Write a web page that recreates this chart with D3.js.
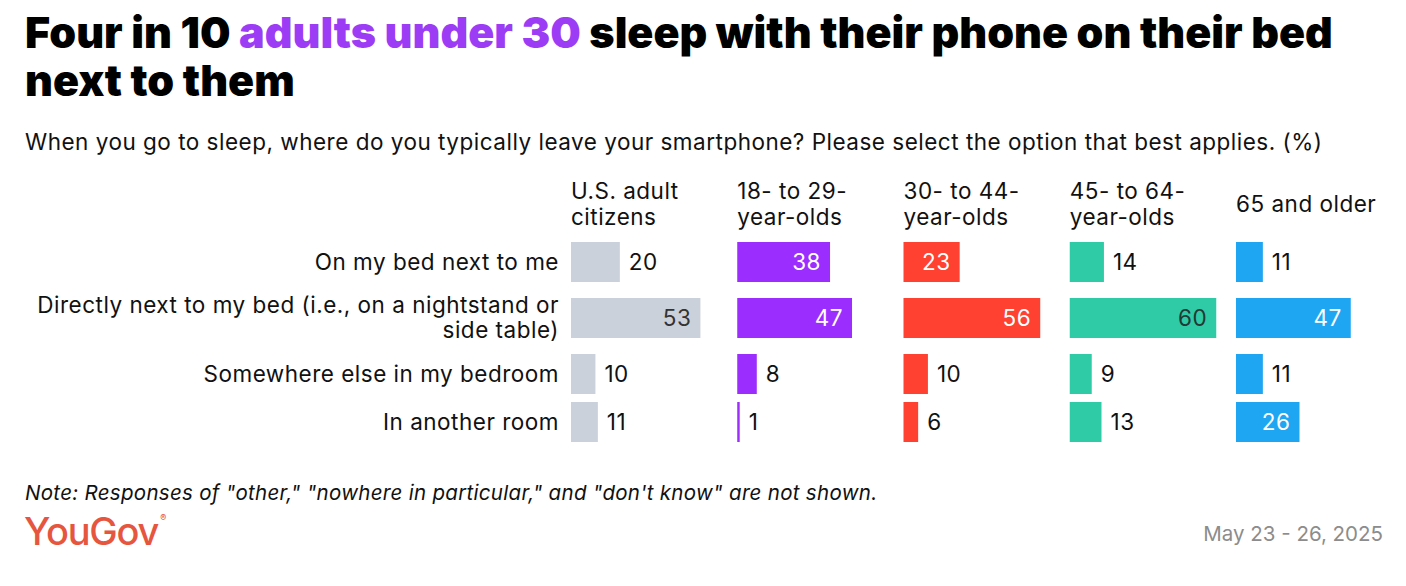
<!DOCTYPE html>
<html>
<head>
<meta charset="utf-8">
<script src="https://cdn.jsdelivr.net/npm/d3@7"></script>
<style>
  body { margin: 0; background: #fff; }
  text { font-family: Inter, "Noto Sans", sans-serif; }
</style>
</head>
<body>
<div class="chart"></div>
<script>
// Chart data
const categories = [
  "On my bed next to me",
  "Directly next to my bed (i.e., on a nightstand or side table)",
  "Somewhere else in my bedroom",
  "In another room"
];
const categoryLines = [
  ["On my bed next to me"],
  ["Directly next to my bed (i.e., on a nightstand or", "side table)"],
  ["Somewhere else in my bedroom"],
  ["In another room"]
];
const groups = ["U.S. adult citizens", "18- to 29-year-olds", "30- to 44-year-olds", "45- to 64-year-olds", "65 and older"];
const groupLines = [
  ["U.S. adult", "citizens"],
  ["18- to 29-", "year-olds"],
  ["30- to 44-", "year-olds"],
  ["45- to 64-", "year-olds"],
  ["65 and older"]
];
const usAdults = [20, 53, 10, 11];
const age18to29 = [38, 47, 8, 1];
const age30to44 = [23, 56, 10, 6];
const age45to64 = [14, 60, 9, 13];
const age65plus = [11, 47, 11, 26];
const seriesValues = [usAdults, age18to29, age30to44, age45to64, age65plus];

const colors = ["#cbd1da", "#9b2dff", "#ff4131", "#2fcaa6", "#1ea6f3"];
const insideText = ["#333", "#fff", "#fff", "#1f3b33", "#fff"];

const svgWidth = 1406;
const svgHeight = 586;
const bodySize = 22.5;
const bodySpacing = 0.5;

const svg = d3.select(".chart")
  .append("svg")
  .attr("width", svgWidth)
  .attr("height", svgHeight);

svg.append("rect").attr("width", svgWidth).attr("height", svgHeight).attr("fill", "#fff");

// Title
const title = svg.append("text")
  .attr("x", 25)
  .attr("y", 48)
  .attr("font-size", 43)
  .attr("font-weight", 900)
  .attr("letter-spacing", 0)
  .attr("fill", "#000");
title.append("tspan").text("Four in 10 ");
title.append("tspan").attr("fill", "#9d3cf5").text("adults under 30");
title.append("tspan").text(" sleep with their phone on their bed");

svg.append("text")
  .attr("x", 25)
  .attr("y", 96)
  .attr("font-size", 43)
  .attr("font-weight", 900)
  .attr("letter-spacing", 0)
  .attr("fill", "#000")
  .text("next to them");

// Subtitle
svg.append("text")
  .attr("x", 25)
  .attr("y", 150)
  .attr("font-size", bodySize)
  .attr("letter-spacing", bodySpacing)
  .attr("fill", "#111")
  .text("When you go to sleep, where do you typically leave your smartphone? Please select the option that best applies. (%)");

// Scales
const colX = d3.scaleLinear().domain([0, groups.length - 1]).range([571, 1236]);
const x = d3.scaleLinear().domain([0, 60]).range([0, 146.5]);

// Row layout: taller row for the two-line label
const rowH = categoryLines.map(lines => lines.length > 1 ? 64 : 48);
const rowTop = [];
let acc = 238;
rowH.forEach(h => { rowTop.push(acc); acc += h; });
const rowMid = rowTop.map((t, i) => t + rowH[i] / 2);
const barH = 40;

// Row labels
const rowLabels = svg.append("g")
  .attr("font-size", bodySize)
  .attr("letter-spacing", bodySpacing)
  .attr("fill", "#111")
  .attr("text-anchor", "end");

categoryLines.forEach((lines, i) => {
  const t = rowLabels.append("text").attr("x", 559);
  const y0 = rowMid[i] - (lines.length - 1) * 12.5;
  lines.forEach((l, j) => {
    t.append("tspan").attr("x", 559).attr("y", y0 + j * 25).attr("dy", "0.35em").text(l);
  });
});

// Column headers
groupLines.forEach((lines, g) => {
  const t = svg.append("text")
    .attr("font-size", bodySize)
    .attr("letter-spacing", bodySpacing)
    .attr("fill", "#111");
  const y0 = 204 - (lines.length - 1) * 13;
  lines.forEach((l, j) => {
    t.append("tspan").attr("x", colX(g)).attr("y", y0 + j * 26).attr("dy", "0.35em").text(l);
  });
});

// Bars and values
seriesValues.forEach((vals, g) => {
  const col = svg.append("g").attr("transform", `translate(${colX(g)},0)`);

  col.selectAll("rect")
    .data(vals)
    .enter()
    .append("rect")
    .attr("x", 0)
    .attr("y", (d, i) => rowMid[i] - barH / 2)
    .attr("width", d => Math.max(x(d), 1.5))
    .attr("height", barH)
    .attr("fill", colors[g]);

  col.selectAll("text")
    .data(vals)
    .enter()
    .append("text")
    .attr("font-size", bodySize)
    .attr("letter-spacing", bodySpacing)
    .attr("dy", "0.35em")
    .attr("y", (d, i) => rowMid[i])
    .attr("x", d => d >= 22 ? x(d) - 9 : Math.max(x(d), 1.5) + 9)
    .attr("text-anchor", d => d >= 22 ? "end" : "start")
    .attr("fill", d => d >= 22 ? insideText[g] : "#111")
    .text(d => d);
});

// Note
svg.append("text")
  .attr("x", 25)
  .attr("y", 500)
  .attr("font-size", 20.5)
  .attr("letter-spacing", 0.3)
  .attr("font-style", "italic")
  .attr("fill", "#111")
  .text("Note: Responses of \"other,\" \"nowhere in particular,\" and \"don't know\" are not shown.");

// Logo
const logo = svg.append("text")
  .attr("x", 24)
  .attr("y", 545)
  .attr("font-size", 38)
  .attr("font-weight", 500)
  .attr("letter-spacing", -1.2)
  .attr("fill", "#e6563f");
logo.append("tspan").text("YouGov");
logo.append("tspan").attr("font-size", 9).attr("dy", -24).attr("dx", 2).text("®");

// Date
svg.append("text")
  .attr("x", 1383)
  .attr("y", 541)
  .attr("font-size", 20.5)
  .attr("text-anchor", "end")
  .attr("fill", "#8c8c8c")
  .text("May 23 - 26, 2025");
</script>
</body>
</html>
